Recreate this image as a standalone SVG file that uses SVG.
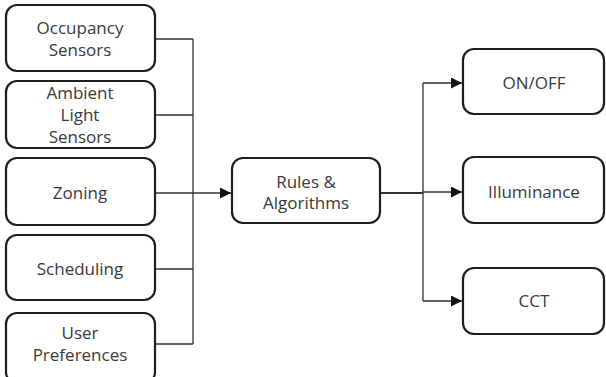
<svg xmlns="http://www.w3.org/2000/svg" width="606" height="377" viewBox="0 0 606 377">
<style>
.box{fill:#fff;stroke:#1e1e1e;stroke-width:2.2}
.t{font-family:"Open Sans","Noto Sans",sans-serif;font-size:17px;font-weight:500;fill:#3a3a3a;text-anchor:middle}
.c{fill:none;stroke:#333;stroke-width:1.3}
</style>
<defs>
<marker id="ah" viewBox="0 0 10 10" refX="10" refY="5" markerWidth="11" markerHeight="11" markerUnits="userSpaceOnUse" orient="auto">
<path d="M0,0 L10,5 L0,10 z" fill="#111"/>
</marker>
</defs>
<rect width="606" height="377" fill="#fff"/>
<g id="connectors">
<path class="c" d="M155,39 H193 M155,115 H193 M155,269 H193 M155,344 H193 M193,39 V344"/>
<path class="c" d="M155,193 H231" marker-end="url(#ah)"/>
<path class="c" d="M380,193 H423" style="stroke-width:2.2"/>
<path class="c" d="M423,83 V301"/>
<path class="c" d="M423,83 H462" marker-end="url(#ah)"/>
<path class="c" d="M423,192 H462" marker-end="url(#ah)"/>
<path class="c" d="M423,301 H462" marker-end="url(#ah)"/>
</g>
<g id="occupancy"><rect class="box" x="6" y="5" width="149" height="66" rx="11"/><text class="t" x="80" y="34">Occupancy</text><text class="t" x="80" y="56">Sensors</text></g>
<g id="ambient"><rect class="box" x="6" y="81" width="149" height="67" rx="11"/><text class="t" x="80" y="99">Ambient</text><text class="t" x="80" y="121">Light</text><text class="t" x="80" y="143">Sensors</text></g>
<g id="zoning"><rect class="box" x="6" y="158" width="149" height="67" rx="11"/><text class="t" x="80" y="199">Zoning</text></g>
<g id="scheduling"><rect class="box" x="6" y="235" width="149" height="65" rx="11"/><text class="t" x="80" y="275">Scheduling</text></g>
<g id="user"><rect class="box" x="6" y="313" width="149" height="70" rx="11"/><text class="t" x="80" y="339">User</text><text class="t" x="80" y="361">Preferences</text></g>
<g id="rules"><rect class="box" x="232" y="158" width="148" height="65" rx="11"/><text class="t" x="306" y="188">Rules &amp;</text><text class="t" x="306" y="209">Algorithms</text></g>
<g id="onoff"><rect class="box" x="463" y="49" width="141" height="65" rx="11"/><text class="t" x="534" y="89">ON/OFF</text></g>
<g id="illuminance"><rect class="box" x="463" y="157" width="141" height="66" rx="11"/><text class="t" x="534" y="198">Illuminance</text></g>
<g id="cct"><rect class="box" x="463" y="268" width="141" height="66" rx="11"/><text class="t" x="534" y="307">CCT</text></g>
</svg>
